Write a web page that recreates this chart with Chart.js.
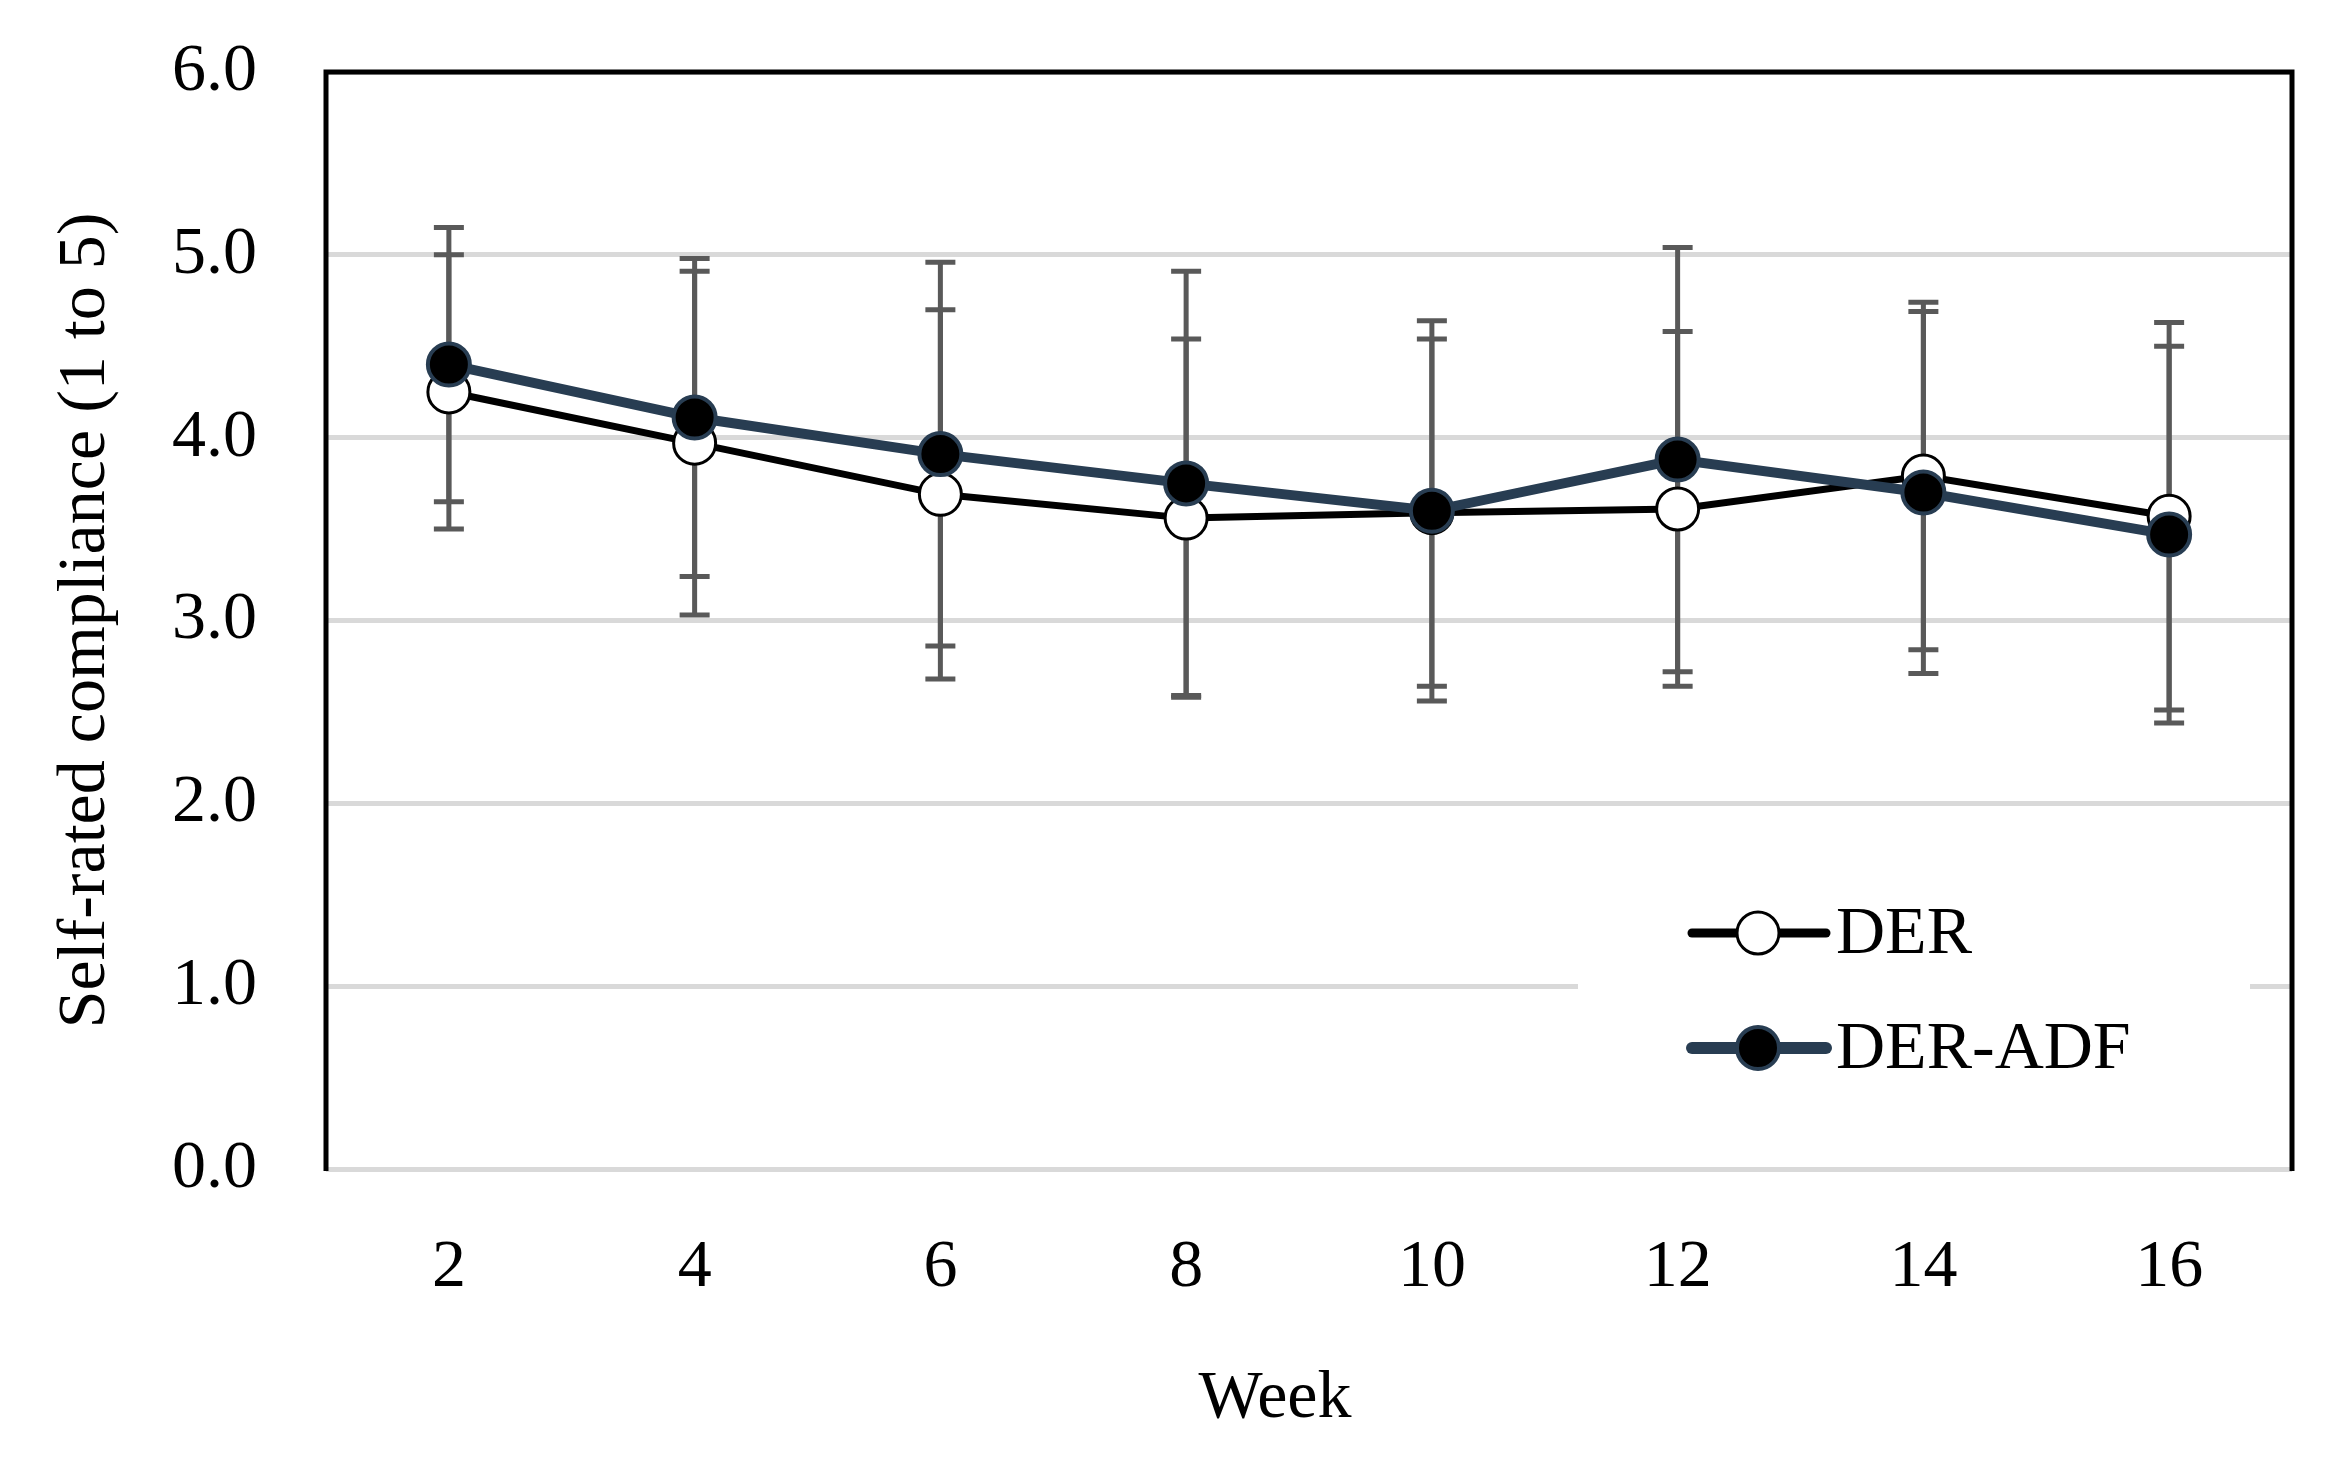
<!DOCTYPE html>
<html>
<head>
<meta charset="utf-8">
<script src="https://cdn.jsdelivr.net/npm/chart.js@4.4.1/dist/chart.umd.min.js"></script>
<style>
  html, body { margin: 0; padding: 0; background: #fff; }
  #wrap { width: 2339px; height: 1462px; }
</style>
</head>
<body>
<div id="wrap"><canvas id="chart" width="2339" height="1462"></canvas></div>
<script>
// ---------- data ----------
const weeks = ['2', '4', '6', '8', '10', '12', '14', '16'];
const derMean = [4.25, 3.97, 3.69, 3.56, 3.59, 3.61, 3.79, 3.57];
const derSd = [0.75, 0.94, 1.01, 0.98, 0.95, 0.97, 0.95, 1.06];
const adfMean = [4.40, 4.11, 3.91, 3.75, 3.60, 3.88, 3.70, 3.47];
const adfSd = [0.75, 0.87, 1.05, 1.16, 1.04, 1.16, 0.99, 1.03];
const yTicks = [0, 1, 2, 3, 4, 5, 6];

const FONT = 'Liberation Serif, Times New Roman, serif';
const ADF_COLOR = '#283d52';

// error bars, drawn under the lines
const errorBars = {
    id: 'errorBars',
    beforeDatasetsDraw(chart) {
        const ctx = chart.ctx, y = chart.scales.y;
        const sds = [derSd, adfSd];
        ctx.save();
        ctx.strokeStyle = '#595959';
        ctx.lineWidth = 5;
        chart.data.datasets.forEach((ds, i) => {
            const meta = chart.getDatasetMeta(i);
            meta.data.forEach((pt, j) => {
                const top = y.getPixelForValue(ds.data[j] + sds[i][j]);
                const bot = y.getPixelForValue(ds.data[j] - sds[i][j]);
                ctx.beginPath();
                ctx.moveTo(pt.x, top); ctx.lineTo(pt.x, bot);
                ctx.moveTo(pt.x - 15, top); ctx.lineTo(pt.x + 15, top);
                ctx.moveTo(pt.x - 15, bot); ctx.lineTo(pt.x + 15, bot);
                ctx.stroke();
            });
        });
        ctx.restore();
    }
};

// black frame on left, top, right
const frame = {
    id: 'frame',
    beforeDatasetsDraw(chart) {
        const { left, top, right, bottom } = chart.chartArea;
        const ctx = chart.ctx;
        ctx.save();
        ctx.strokeStyle = '#000';
        ctx.lineWidth = 5;
        ctx.beginPath();
        ctx.moveTo(left, bottom + 2);
        ctx.lineTo(left, top);
        ctx.lineTo(right, top);
        ctx.lineTo(right, bottom + 2);
        ctx.stroke();
        ctx.restore();
    }
};

// legend inside the plot, white box over the grid
const insideLegend = {
    id: 'insideLegend',
    afterDatasetsDraw(chart) {
        const ctx = chart.ctx;
        ctx.save();
        ctx.fillStyle = '#fff';
        ctx.fillRect(1578, 880, 672, 220);
        const rows = [{ i: 0, y: 933 }, { i: 1, y: 1048 }];
        rows.forEach(r => {
            const ds = chart.data.datasets[r.i];
            ctx.strokeStyle = ds.borderColor;
            ctx.lineWidth = ds.borderWidth + 2;
            ctx.lineCap = 'round';
            ctx.beginPath();
            ctx.moveTo(1692, r.y); ctx.lineTo(1826, r.y);
            ctx.stroke();
            ctx.beginPath();
            ctx.arc(1758, r.y, ds.pointRadius, 0, Math.PI * 2);
            ctx.fillStyle = ds.pointBackgroundColor;
            ctx.fill();
            ctx.lineWidth = ds.pointBorderWidth;
            ctx.strokeStyle = ds.pointBorderColor;
            ctx.stroke();
            ctx.fillStyle = '#000';
            ctx.font = '68px ' + FONT;
            ctx.textBaseline = 'middle';
            ctx.textAlign = 'left';
            ctx.fillText(ds.label, 1836, r.y + 2);
        });
        ctx.restore();
    }
};

new Chart(document.getElementById('chart'), {
    type: 'line',
    data: {
        labels: weeks,
        datasets: [
            {
                label: 'DER', data: derMean, order: 1,
                borderColor: '#000', borderWidth: 7,
                pointRadius: 21, pointHoverRadius: 21,
                pointBackgroundColor: '#fff', pointBorderColor: '#000', pointBorderWidth: 3,
                tension: 0, fill: false
            },
            {
                label: 'DER-ADF', data: adfMean, order: 0,
                borderColor: ADF_COLOR, borderWidth: 10,
                pointRadius: 21, pointHoverRadius: 21,
                pointBackgroundColor: '#000', pointBorderColor: ADF_COLOR, pointBorderWidth: 4,
                tension: 0, fill: false
            }
        ]
    },
    options: {
        responsive: false, animation: false, devicePixelRatio: 1,
        layout: { padding: { left: 0, right: 47, top: 72, bottom: 0 } },
        plugins: { legend: { display: false }, tooltip: { enabled: false } },
        scales: {
            x: {
                offset: true,
                grid: { display: false },
                border: { display: false },
                ticks: { color: '#000', padding: 50, font: { family: FONT, size: 68 } },
                title: {
                    display: true, text: 'Week    ', color: '#000',
                    font: { family: FONT, size: 68 }, padding: { top: 0, bottom: 22 }
                },
                afterFit(scale) { scale.height = 293; }
            },
            y: {
                min: 0, max: 6,
                afterBuildTicks(scale) { scale.ticks = yTicks.map(v => ({ value: v })); },
                grid: { color: '#d9d9d9', lineWidth: 5, drawTicks: false },
                border: { display: false },
                ticks: {
                    color: '#000', padding: 69, font: { family: FONT, size: 68 },
                    callback: v => Number(v).toFixed(1)
                },
                title: {
                    display: true, text: 'Self-rated compliance (1 to 5)', color: '#000',
                    font: { family: FONT, size: 68 }, padding: { top: 45, bottom: 0 }
                },
                afterFit(scale) {
                    scale.width = 326;
                    scale.paddingTop = 0;
                    scale.paddingBottom = 0;
                }
            }
        }
    },
    plugins: [frame, errorBars, insideLegend]
});
</script>
</body>
</html>
